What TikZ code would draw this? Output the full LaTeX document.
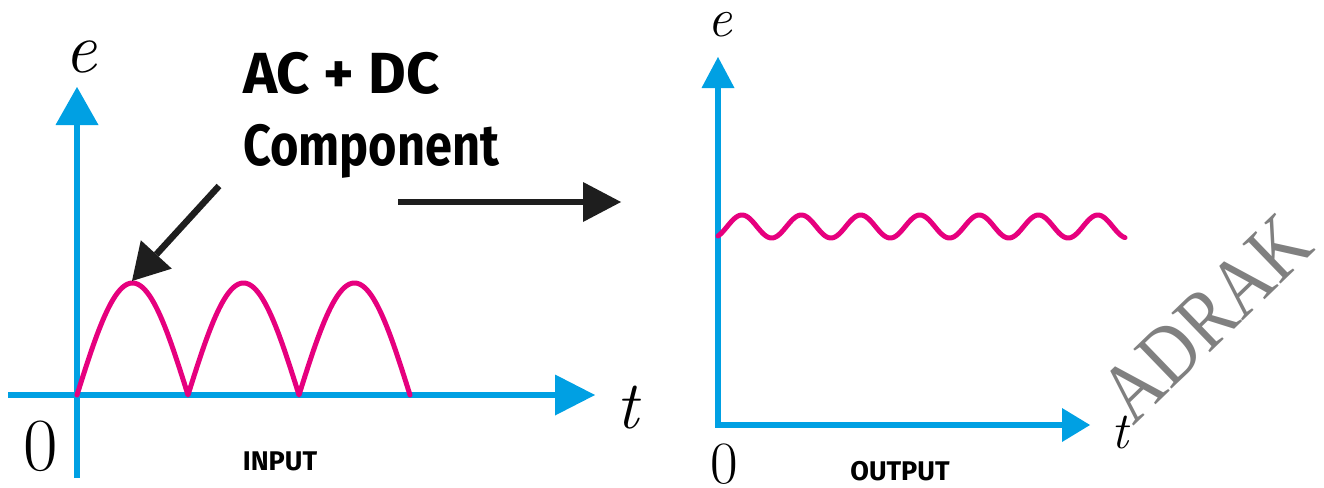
\documentclass[tikz,border=0pt]{standalone}
\usepackage{fontspec}
\usetikzlibrary{arrows.meta}
\newfontfamily\notefont{Fira Sans}
\newfontfamily\markfont{Liberation Serif}

\begin{document}
\begin{tikzpicture}[x=1pt, y=-1pt]
  \definecolor{axis}{RGB}{0,160,227}
  \definecolor{wave}{RGB}{230,0,126}
  \definecolor{pointer}{RGB}{30,30,30}
  \tikzset{
    axisline/.style={axis, line width=6pt},
    waveline/.style={wave, line width=5pt, line join=round, line cap=round},
    pointline/.style={pointer, line width=6.5pt},
    sym/.style={inner sep=0pt, anchor=base},
    tag/.style={inner sep=0pt, anchor=base, font=\notefont\bfseries\fontsize{27}{27}\selectfont},
    caption/.style={inner sep=0pt, anchor=base west, font=\notefont\bfseries\fontsize{58}{58}\selectfont}
  }
  \useasboundingbox (0,0) rectangle (1324,487);

  % input axes
  \coordinate (inYlo) at (77,478);
  \coordinate (inYhi) at (77,87);
  \coordinate (inXlo) at (8,395);
  \coordinate (inXhi) at (595,395);
  \draw[axisline, -{Triangle[length=38pt,width=43pt,line width=0pt]}] (inYlo) -- (inYhi);
  \draw[axisline, -{Triangle[length=40pt,width=41pt,line width=0pt]}] (inXlo) -- (inXhi);

  % output axes
  \coordinate (outO) at (718,425);
  \coordinate (outYhi) at (718,57);
  \coordinate (outXhi) at (1090,425);
  \draw[axisline, line cap=rect, -{Triangle[length=31pt,width=33pt,line width=0pt]}] (outO) -- (outYhi);
  \draw[axisline, line cap=rect, -{Triangle[length=28pt,width=34pt,line width=0pt]}] (outO) -- (outXhi);

  % waves
  \draw[waveline] plot[domain=0:333, samples=334] ({77+\x}, {395-112*abs(sin(\x/111*180))});
  \draw[waveline] plot[domain=718:1125, samples=300] (\x, {226.5-11.5*cos((\x-742)/59.3*360)});

  % pointers
  \coordinate (ptrFrom) at (219,186);
  \coordinate (ptrTo) at (132,281);
  \draw[pointline, -{Triangle[length=36pt,width=42pt,line width=0pt]}] (ptrFrom) -- (ptrTo);
  \coordinate (flowFrom) at (398,202);
  \coordinate (flowTo) at (621,202);
  \draw[pointline, -{Triangle[length=38pt,width=40pt,line width=0pt]}] (flowFrom) -- (flowTo);

  % axis labels
  \node[sym, font=\itshape\fontsize{72}{72}\selectfont] (inE) at (81,72) {e};
  \node[sym, font=\itshape\fontsize{68}{68}\selectfont] (inT) at (628,428) {t};
  \node[sym, font=\fontsize{75}{75}\selectfont] (inZero) at (41,470) {0};
  \node[sym, font=\itshape\fontsize{55}{55}\selectfont] (outE) at (720,37) {e};
  \node[sym, font=\itshape\fontsize{52}{52}\selectfont] (outT) at (1120,448) {t};
  \node[sym, font=\fontsize{60}{60}\selectfont] (outZero) at (724,483) {0};

  % texts
  \node[caption] (capTop) at (243,93) {AC + DC};
  \node[caption, xscale=0.84, transform shape] (capBot) at (243,165) {Component};
  \node[tag] (inTag) at (280,470) {INPUT};
  \node[tag] (outTag) at (900,480) {OUTPUT};
  \node[rotate=44, xscale=0.85, transform shape, inner sep=0pt, text=gray, font=\markfont\fontsize{84}{84}\selectfont] (mark) at (1206,318) {ADRAK};
\end{tikzpicture}
\end{document}
